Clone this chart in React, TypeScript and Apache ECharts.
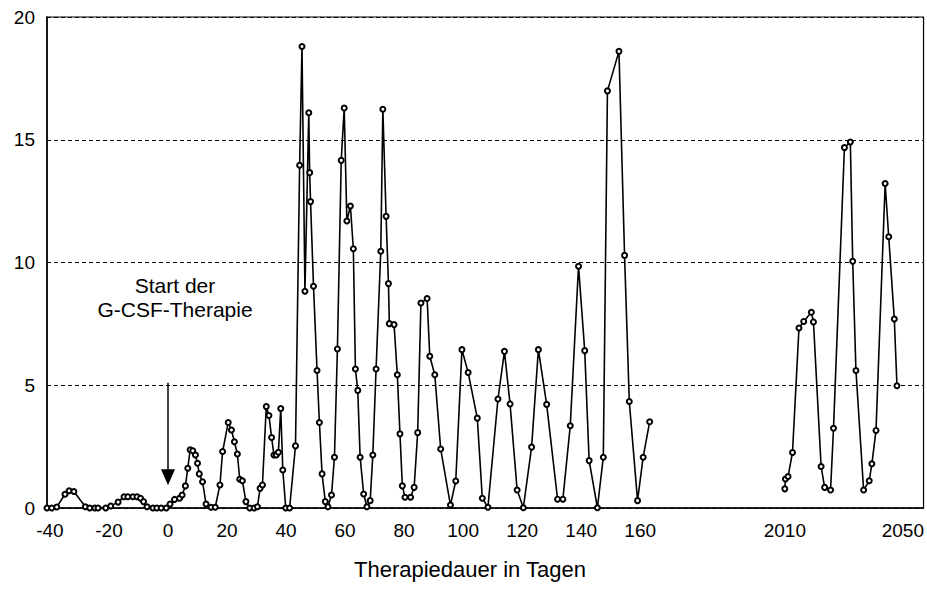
import React, { useEffect, useRef } from "react";
import * as echarts from "echarts";

// Segment 1: days -41 .. 163
const seg1Days = [
  -41, -39.4, -37.7, -34.9, -33.5, -31.9, -28.0, -26.5, -24.8, -23.7, -21.1, -19.4, -16.9, -14.9,
  -13.6, -11.9, -10.5, -9.3, -8.3, -7.1, -5.1, -3.8, -2.3, -0.6, 0.7, 2.2, 3.9, 4.8, 5.9, 6.7, 7.5,
  8.4, 9.3, 10.0, 10.6, 11.7, 12.9, 14.6, 16.0, 17.6, 18.5, 20.4, 21.5, 22.5, 23.5, 24.3, 25.2, 26.4,
  27.7, 29.2, 30.3, 31.2, 32.0, 33.3, 34.2, 35.1, 35.9, 36.7, 37.4, 38.2, 38.9, 39.9, 41.2, 43.2,
  44.6, 45.4, 46.4, 47.7, 48.0, 48.3, 49.3, 50.5, 51.3, 52.2, 53.3, 54.2, 55.4, 56.4, 57.4, 58.7,
  59.7, 60.6, 61.8, 62.8, 63.5, 64.3, 65.1, 66.3, 67.4, 68.5, 69.4, 70.5, 72.1, 72.8, 73.9, 74.7,
  75.0, 76.6, 77.7, 78.6, 79.4, 80.3, 82.2, 83.4, 84.6, 85.7, 87.8, 88.7, 90.4, 92.4, 95.7, 97.5,
  99.6, 101.7, 104.8, 106.5, 108.4, 111.8, 114.0, 115.9, 118.3, 120.4, 123.2, 125.5, 128.3, 132.0,
  133.8, 136.3, 139.1, 141.2, 142.7, 145.5, 147.5, 148.9, 152.8, 154.7, 156.3, 159.1, 161.0, 163.2,
];
const seg1Values = [
  0, 0, 0.04, 0.56, 0.7, 0.67, 0.05, 0, 0, 0, 0, 0.08, 0.24, 0.46,
  0.46, 0.46, 0.46, 0.4, 0.26, 0.05, 0, 0, 0, 0, 0.16, 0.35, 0.4, 0.53, 0.9, 1.62, 2.37,
  2.33, 2.16, 1.82, 1.39, 1.07, 0.16, 0.03, 0.03, 0.94, 2.3, 3.48, 3.18, 2.7, 2.2, 1.17, 1.11, 0.26,
  0, 0, 0.05, 0.8, 0.94, 4.13, 3.77, 2.87, 2.16, 2.16, 2.27, 4.05, 1.55, 0, 0, 2.53,
  13.96, 18.8, 8.83, 16.1, 13.66, 12.48, 9.03, 5.6, 3.48, 1.39, 0.26, 0.05, 0.53, 2.07, 6.48, 14.16,
  16.29, 11.69, 12.3, 10.56, 5.66, 4.79, 2.07, 0.57, 0.05, 0.3, 2.16, 5.66, 10.46, 16.24, 11.88, 9.14,
  7.51, 7.47, 5.43, 3.02, 0.9, 0.44, 0.44, 0.84, 3.07, 8.35, 8.53, 6.18, 5.43, 2.4, 0.12, 1.1,
  6.45, 5.52, 3.66, 0.4, 0.03, 4.44, 6.38, 4.24, 0.73, 0.01, 2.48, 6.45, 4.22, 0.36,
  0.36, 3.35, 9.85, 6.41, 1.93, 0.01, 2.07, 16.99, 18.6, 10.29, 4.34, 0.3, 2.07, 3.51,
];

// Segment 2: days 2010 .. 2048
const seg2Days = [
  2010.0, 2010.2, 2011.1, 2012.6, 2014.8, 2016.4, 2019.0, 2019.7, 2022.3, 2023.5, 2025.5, 2026.5,
  2030.2, 2032.2, 2033.0, 2034.1, 2036.7, 2038.6, 2039.5, 2040.9, 2044.0, 2045.2, 2047.1, 2048.0,
];
const seg2Values = [
  0.78, 1.18, 1.28, 2.26, 7.33, 7.6, 7.97, 7.58, 1.69, 0.84, 0.73, 3.25,
  14.68, 14.91, 10.05, 5.6, 0.73, 1.11, 1.8, 3.16, 13.22, 11.05, 7.7, 4.98,
];

const xTickLabels = [-40, -20, 0, 20, 40, 60, 80, 100, 120, 140, 160, 2010, 2050];
const yTickLabels = [0, 5, 10, 15, 20];

// therapy start arrow: day 0, from value 5.1 down to 1.25
const arrowDay = 0;
const arrowFrom = 5.1;
const arrowTo = 1.25;

// axis break: days between the two segments are collapsed by this amount
const BREAK_OFFSET = 1801;
const toAxis = (d: number) => (d > 1000 ? d - BREAK_OFFSET : d);
const fromAxis = (v: number) => (v > 185 ? v + BREAK_OFFSET : v);

const FONT = "'Liberation Sans', Arial, sans-serif";

export default function App() {
  const ref = useRef<HTMLDivElement>(null);
  useEffect(() => {
    if (!ref.current) return;
    const chart = echarts.init(ref.current, null, { renderer: "svg" });
    const lineStyle = { color: "#000", width: 1.6 };
    const itemStyle = { color: "#000", borderColor: "#000", borderWidth: 1 };
    chart.setOption({
      animation: false,
      backgroundColor: "#fff",
      grid: {
        left: 47,
        right: -1,
        top: 17,
        bottom: 86,
        show: true,
        borderColor: "#000",
        borderWidth: 1.2,
        backgroundColor: "transparent",
      },
      xAxis: {
        type: "value",
        min: -41,
        max: 256,
        axisLine: { show: true, onZero: false, lineStyle: { color: "#000", width: 1.5 } },
        axisTick: { show: false },
        splitLine: { show: false },
        axisLabel: {
          customValues: xTickLabels.map(toAxis),
          formatter: (v: number) => String(Math.round(fromAxis(v))),
          color: "#000",
          fontFamily: FONT,
          fontSize: 19,
          margin: 13,
        },
      },
      yAxis: {
        type: "value",
        min: yTickLabels[0],
        max: yTickLabels[yTickLabels.length - 1],
        interval: 5,
        axisLine: { show: true, onZero: false, lineStyle: { color: "#000", width: 1.5 } },
        axisTick: { show: false },
        splitLine: { show: true, lineStyle: { color: "#000", type: [4, 3], width: 1 } },
        axisLabel: { color: "#000", fontFamily: FONT, fontSize: 19, margin: 12 },
      },
      series: [
        {
          type: "line",
          data: seg1Days.map((d, i) => [toAxis(d), seg1Values[i]]),
          symbol: "emptyCircle",
          symbolSize: 5,
          lineStyle,
          itemStyle,
          markLine: {
            silent: true,
            symbol: ["none", "triangle"],
            symbolSize: [14, 16],
            lineStyle: { color: "#000", width: 1.5, type: "solid" },
            itemStyle: { color: "#000" },
            label: { show: false },
            data: [
              [
                { xAxis: arrowDay, yAxis: arrowFrom },
                { xAxis: arrowDay, yAxis: arrowTo },
              ],
            ],
          },
        },
        {
          type: "line",
          data: seg2Days.map((d, i) => [toAxis(d), seg2Values[i]]),
          symbol: "emptyCircle",
          symbolSize: 5,
          lineStyle,
          itemStyle,
        },
      ],
      graphic: [
        {
          type: "text",
          x: 175,
          y: 297,
          style: {
            text: "Start der\nG-CSF-Therapie",
            align: "center",
            verticalAlign: "middle",
            lineHeight: 24,
            fontSize: 21,
            fontFamily: FONT,
            fill: "#000",
          },
        },
        {
          type: "text",
          x: 470,
          y: 569,
          style: {
            text: "Therapiedauer in Tagen",
            align: "center",
            verticalAlign: "middle",
            fontSize: 22,
            fontFamily: FONT,
            fill: "#000",
          },
        },
      ],
    });
    return () => chart.dispose();
  }, []);
  return (
    <div
      ref={ref}
      style={{ position: "fixed", left: 0, top: 0, width: 927, height: 594 }}
    />
  );
}
